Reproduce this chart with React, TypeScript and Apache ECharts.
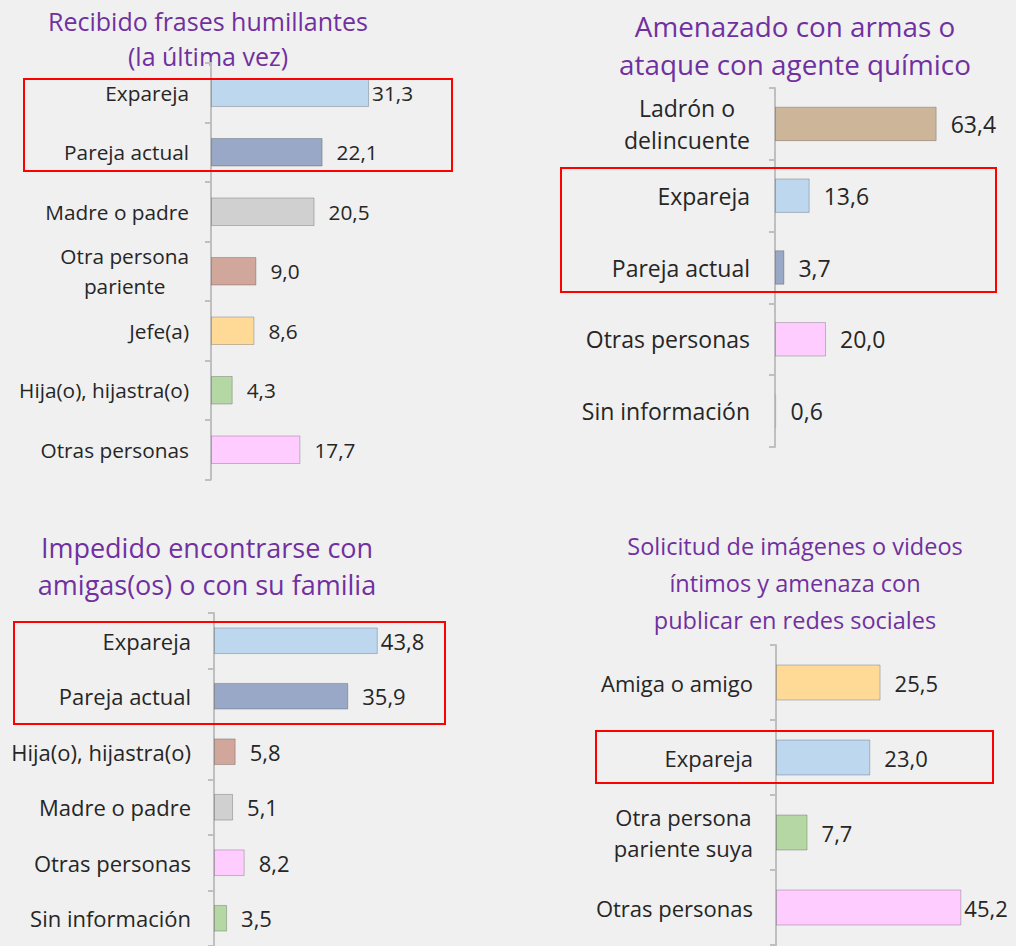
import React, { useEffect, useRef } from 'react';
import * as echarts from 'echarts';

// ---------- DATA ----------
const p1Title = ['Recibido frases humillantes', '(la última vez)'];
const p1Categories = ['Expareja', 'Pareja actual', 'Madre o padre', 'Otra persona\npariente', 'Jefe(a)', 'Hija(o), hijastra(o)', 'Otras personas'];
const p1Values = [31.3, 22.1, 20.5, 9.0, 8.6, 4.3, 17.7];

const p2Title = ['Amenazado con armas o', 'ataque con agente químico'];
const p2Categories = ['Ladrón o\ndelincuente', 'Expareja', 'Pareja actual', 'Otras personas', 'Sin información'];
const p2Values = [63.4, 13.6, 3.7, 20.0, 0.6];

const p3Title = ['Impedido encontrarse con', 'amigas(os) o con su familia'];
const p3Categories = ['Expareja', 'Pareja actual', 'Hija(o), hijastra(o)', 'Madre o padre', 'Otras personas', 'Sin información'];
const p3Values = [43.8, 35.9, 5.8, 5.1, 8.2, 3.5];

const p4Title = ['Solicitud de imágenes o videos', 'íntimos y amenaza con', 'publicar en redes sociales'];
const p4Categories = ['Amiga o amigo', 'Expareja', 'Otra persona\npariente suya', 'Otras personas'];
const p4Values = [25.5, 23.0, 7.7, 45.2];

// ---------- STYLE ----------
const BLUE = '#BDD7EE';
const SLATE = '#98A8C6';
const GRAY = '#D0D0D0';
const ROSE = '#D1A69B';
const PEACH = '#FFDA97';
const GREEN = '#B5D7A3';
const PINK = '#FFCCFF';
const TAN = '#CDB59A';

const p1Colors = [BLUE, SLATE, GRAY, ROSE, PEACH, GREEN, PINK];
const p2Colors = [TAN, BLUE, SLATE, PINK, GREEN];
const p3Colors = [BLUE, SLATE, ROSE, GRAY, PINK, GREEN];
const p4Colors = [PEACH, BLUE, GREEN, PINK];

const FONT = '"Open Sans"';
const TEXT = '#262626';
const PURPLE = '#7030A0';

const panels = [
  { title: p1Title, titleX: 208, titleY: [21, 56], titleSize: 25, cats: p1Categories, vals: p1Values, colors: p1Colors,
    left: 211, top: 63, band: 59.5, scale: 5.05, max: 50, font: 20.8, margin: 22, lh: 30, tight: [0] },
  { title: p2Title, titleX: 795, titleY: [26, 64], titleSize: 27.8, cats: p2Categories, vals: p2Values, colors: p2Colors,
    left: 775, top: 88, band: 71.8, scale: 2.55, max: 80, font: 23, margin: 25, lh: 32, tight: [] },
  { title: p3Title, titleX: 207, titleY: [547, 584], titleSize: 27, cats: p3Categories, vals: p3Values, colors: p3Colors,
    left: 214, top: 613, band: 56, scale: 3.74, max: 60, font: 22, margin: 23, lh: 30, tight: [0] },
  { title: p4Title, titleX: 795, titleY: [546, 583, 620], titleSize: 23.5, cats: p4Categories, vals: p4Values, colors: p4Colors,
    left: 776, top: 645, band: 75, scale: 4.1, max: 50, font: 22, margin: 23, lh: 31, tight: [3] },
];

// highlight boxes (annotation frames)
const boxes = [
  { x: 24, y: 79, w: 428, h: 92 },
  { x: 561, y: 168, w: 435, h: 124 },
  { x: 14, y: 622, w: 431, h: 102 },
  { x: 596, y: 731, w: 397, h: 52 },
];

const fmt = (v: number) => v.toFixed(1).replace('.', ',');

export default function App() {
  const ref = useRef<HTMLDivElement>(null);
  useEffect(() => {
    document.body.style.margin = '0';
    const chart = echarts.init(ref.current!, null, { renderer: 'svg' });

    const grid: any[] = [];
    const xAxis: any[] = [];
    const yAxis: any[] = [];
    const series: any[] = [];
    const graphic: any[] = [];

    panels.forEach((p, i) => {
      grid.push({ left: p.left, top: p.top, width: p.max * p.scale, height: p.cats.length * p.band, containLabel: false });
      xAxis.push({ type: 'value', gridIndex: i, min: 0, max: p.max, show: false, splitLine: { show: false } });
      yAxis.push({
        type: 'category', gridIndex: i, data: p.cats, inverse: true,
        axisLine: { show: true, lineStyle: { color: '#BFBFBF', width: 2 } },
        axisTick: { show: true, length: 6, lineStyle: { color: '#BFBFBF', width: 2 } },
        axisLabel: {
          margin: p.margin, color: TEXT, fontFamily: FONT, fontSize: p.font, lineHeight: p.lh,
          formatter: (v: string) => v.split('\n').map((l) => `{c|${l}}`).join('\n'),
          rich: { c: { align: 'center', color: TEXT, fontFamily: FONT, fontSize: p.font, lineHeight: p.lh } },
        },
        splitLine: { show: false },
      });
      series.push({
        type: 'bar', xAxisIndex: i, yAxisIndex: i, barWidth: '48%',
        data: p.vals.map((v, j) => ({
          value: v,
          itemStyle: { color: p.colors[j], borderColor: v < 1 ? 'rgba(0,0,0,0.06)' : 'rgba(0,0,0,0.22)' },
          label: { distance: p.tight.includes(j) ? 3 : 14 },
        })),
        itemStyle: { borderColor: 'rgba(0,0,0,0.22)', borderWidth: 1 },
        label: {
          show: true, position: 'right', distance: 14, color: TEXT, fontFamily: FONT, fontSize: p.font,
          formatter: (d: any) => fmt(d.value),
        },
      });
      p.title.forEach((t, k) => {
        graphic.push({
          type: 'text', x: p.titleX, y: p.titleY[k],
          style: { text: t, fill: PURPLE, font: `${p.titleSize}px ${FONT}`, align: 'center', verticalAlign: 'middle' },
        });
      });
    });

    boxes.forEach((b) => {
      graphic.push({
        type: 'rect', shape: { x: b.x, y: b.y, width: b.w, height: b.h }, z: 100,
        style: { fill: 'none', stroke: '#FF0000', lineWidth: 2 },
      });
    });

    chart.setOption({
      animation: false,
      backgroundColor: '#F0F0F0',
      grid, xAxis, yAxis, series, graphic,
    });
    return () => chart.dispose();
  }, []);
  return <div ref={ref} style={{ width: 1016, height: 946, background: '#F0F0F0' }} />;
}
